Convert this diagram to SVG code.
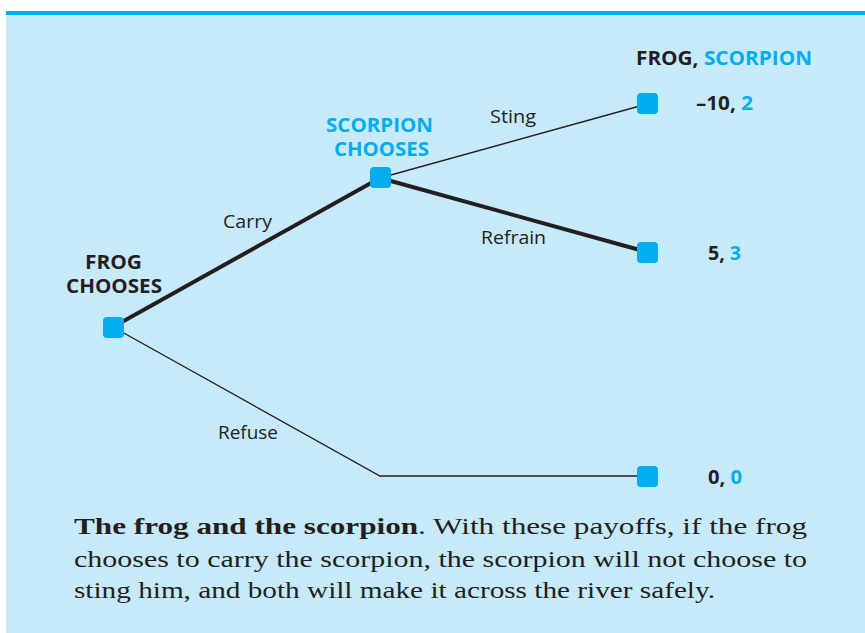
<svg xmlns="http://www.w3.org/2000/svg" width="865" height="633" viewBox="0 0 865 633">
<style>
.bg{fill:#C6EAF9}
.node{fill:#00AEEF}
.thin{stroke:#231F20;stroke-width:1.3;fill:none}
.thick{stroke:#231F20;stroke-width:4;fill:none}
.hd{font-family:"Open Sans","Liberation Sans",sans-serif;font-weight:bold;font-size:19px;fill:#231F20}
.blue{fill:#00AEEF}
.lbl{font-family:"Open Sans","Liberation Sans",sans-serif;font-size:18px;fill:#231F20}
.cap{font-family:"Liberation Serif",serif;font-size:24px;fill:#231F20}
</style>
<rect x="6" y="11" width="859" height="622" class="bg"/>
<rect x="6" y="11" width="859" height="4" fill="#00AEEF"/>
<g id="connectors">
<line x1="113" y1="327" x2="380" y2="178" class="thick"/>
<line x1="380" y1="178" x2="647" y2="104" class="thin"/>
<line x1="380" y1="178" x2="647" y2="252" class="thick"/>
<polyline points="113,327 380,476 647,476" class="thin"/>
<text x="223" y="228" class="lbl" textLength="49" lengthAdjust="spacingAndGlyphs">Carry</text>
<text x="218" y="439" class="lbl" textLength="60" lengthAdjust="spacingAndGlyphs">Refuse</text>
<text x="490" y="123" class="lbl blue" textLength="46" lengthAdjust="spacingAndGlyphs">Sting</text>
<text x="481" y="244" class="lbl blue" textLength="65" lengthAdjust="spacingAndGlyphs">Refrain</text>
</g>
<g id="frog">
<rect x="103" y="317" width="21" height="21" rx="4" class="node"/>
<text x="85" y="269" class="hd" font-size="18" textLength="57" lengthAdjust="spacingAndGlyphs">FROG</text>
<text x="66" y="293" class="hd" font-size="18" textLength="96" lengthAdjust="spacingAndGlyphs">CHOOSES</text>
</g>
<g id="scorpion">
<rect x="370" y="167" width="21" height="21" rx="4" class="node"/>
<text x="326" y="132" class="hd blue" textLength="107" lengthAdjust="spacingAndGlyphs">SCORPION</text>
<text x="334" y="156" class="hd blue" textLength="95" lengthAdjust="spacingAndGlyphs">CHOOSES</text>
</g>
<g id="sting">
<rect x="637" y="93" width="21" height="21" rx="4" class="node"/>
<text x="696" y="110" class="hd" textLength="57" lengthAdjust="spacingAndGlyphs">–10, <tspan class="blue">2</tspan></text>
</g>
<g id="refrain">
<rect x="637" y="242" width="21" height="21" rx="4" class="node"/>
<text x="708" y="260" class="hd" textLength="33" lengthAdjust="spacingAndGlyphs">5, <tspan class="blue">3</tspan></text>
</g>
<g id="refuse">
<rect x="637" y="466" width="21" height="21" rx="4" class="node"/>
<text x="708" y="484" class="hd" textLength="34" lengthAdjust="spacingAndGlyphs">0, <tspan class="blue">0</tspan></text>
</g>
<g id="header">
<text x="636" y="65" class="hd" textLength="176" lengthAdjust="spacingAndGlyphs">FROG, <tspan class="blue">SCORPION</tspan></text>
</g>
<g id="caption">
<text x="74" y="534" class="cap" textLength="733" lengthAdjust="spacingAndGlyphs"><tspan font-weight="bold">The frog and the scorpion</tspan>.  With these payoffs, if the frog</text>
<text x="74" y="567" class="cap" textLength="733" lengthAdjust="spacingAndGlyphs">chooses to carry the scorpion, the scorpion will not choose to</text>
<text x="74" y="598" class="cap" textLength="641" lengthAdjust="spacingAndGlyphs">sting him, and both will make it across the river safely.</text>
</g>
</svg>
